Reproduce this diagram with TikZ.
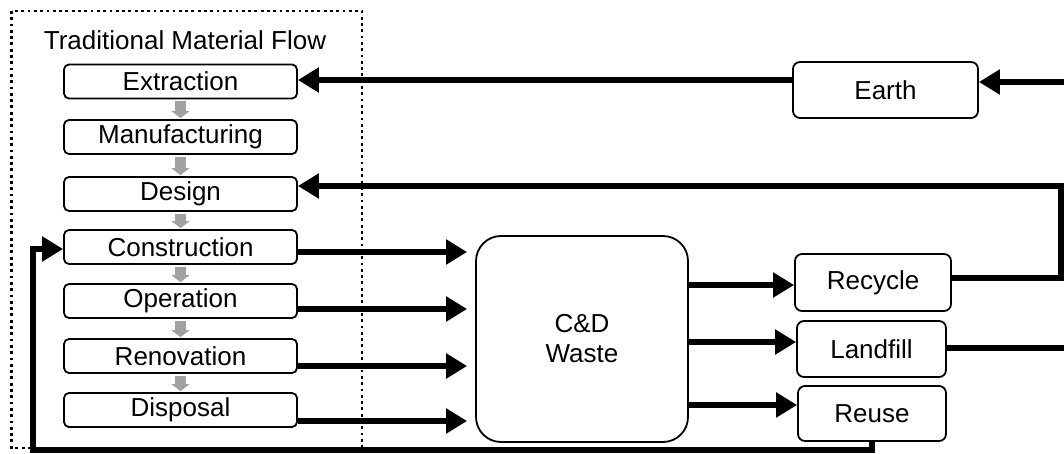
\documentclass[tikz,border=0pt]{standalone}
\usepackage{fontspec}
\setmainfont{Liberation Sans}
\usetikzlibrary{arrows.meta,calc}
\begin{document}
\begin{tikzpicture}[x=1pt,y=-1pt,
  txt/.style={font=\fontsize{26}{30}\selectfont},
  stage/.style={draw,line width=1.8pt,rounded corners=5pt,minimum width=233pt,minimum height=34pt,inner sep=0pt,txt},
  outbox/.style={draw,line width=1.8pt,rounded corners=7pt,inner sep=0pt,txt},
  flow/.style={line width=6.5pt,-{Triangle[length=21pt,width=24pt]}},
  plain/.style={line width=6.5pt},
  grayarr/.style={draw=black!37,line width=11pt,-{Triangle[length=7pt,width=18pt]},shorten <=2pt,shorten >=1pt},
  frame/.style={line width=2.8pt,dash pattern=on 2.8pt off 3.5pt}]
\useasboundingbox (0,0) rectangle (1064,454);
\draw[frame] (11.5,11) rectangle (362,448);
\node[txt] (title) at (185,40) {Traditional Material Flow};
\node[stage] (extraction) at (180.5,81.5) {Extraction};
\node[stage] (manufacturing) at (180.5,137) {Manufacturing};
\node[stage] (design) at (180.5,194) {Design};
\node[stage] (construction) at (180.5,247) {Construction};
\node[stage] (operation) at (180.5,301) {Operation};
\node[stage] (renovation) at (180.5,356) {Renovation};
\node[stage] (disposal) at (180.5,410) {Disposal};
\foreach \a/\b in {extraction/manufacturing,manufacturing/design,design/construction,construction/operation,operation/renovation,renovation/disposal}
  \draw[grayarr] (\a.south) -- (\b.north);
\node[outbox,minimum width=185pt,minimum height=56pt] (earth) at (885.5,90) {Earth};
\node[outbox,minimum width=156pt,minimum height=57pt] (recycle) at (873,282.5) {Recycle};
\node[outbox,minimum width=149pt,minimum height=56pt] (landfill) at (871.5,349) {Landfill};
\node[outbox,minimum width=148pt,minimum height=55pt] (reuse) at (872,413.5) {Reuse};
\node[draw,line width=1.8pt,rounded corners=25pt,minimum width=212pt,minimum height=206pt,txt,align=center] (cd) at (582,339) {C\&D\\Waste};
% coordinates
\coordinate (yE) at (0,80);
\coordinate (rE) at (1064,82);
\coordinate (yR) at (0,278);
\coordinate (cR) at (1061,278);
\coordinate (cD) at (1061,186);
\coordinate (yD) at (0,186);
\coordinate (rL) at (1064,348);
\coordinate (uB) at (872,450);
\coordinate (lB) at (33,450);
\coordinate (lC) at (33,249);
% arrows
\draw[flow] (earth.west |- yE) -- (extraction.east |- yE);
\draw[flow] (rE) -- (earth.east |- rE);
\draw[flow] (recycle.east |- yR) -- (cR) -- (cD) -- (design.east |- yD);
\draw[plain] (landfill.east |- rL) -- (rL);
\draw[flow] (reuse.south) -- (uB) -- (lB) -- (lC) -- (construction.west |- lC);
\foreach \s/\y in {construction/252,operation/309,renovation/366,disposal/421}{
  \coordinate (t\s) at (0,\y);
  \draw[flow,shorten >=8pt] (\s.east |- t\s) -- (cd.west |- t\s);
}
\coordinate (o1) at (0,285);
\coordinate (o2) at (0,342);
\coordinate (o3) at (0,405);
\draw[flow] (cd.east |- o1) -- (recycle.west |- o1);
\draw[flow] (cd.east |- o2) -- (landfill.west |- o2);
\draw[flow] (cd.east |- o3) -- (reuse.west |- o3);
\end{tikzpicture}
\end{document}
